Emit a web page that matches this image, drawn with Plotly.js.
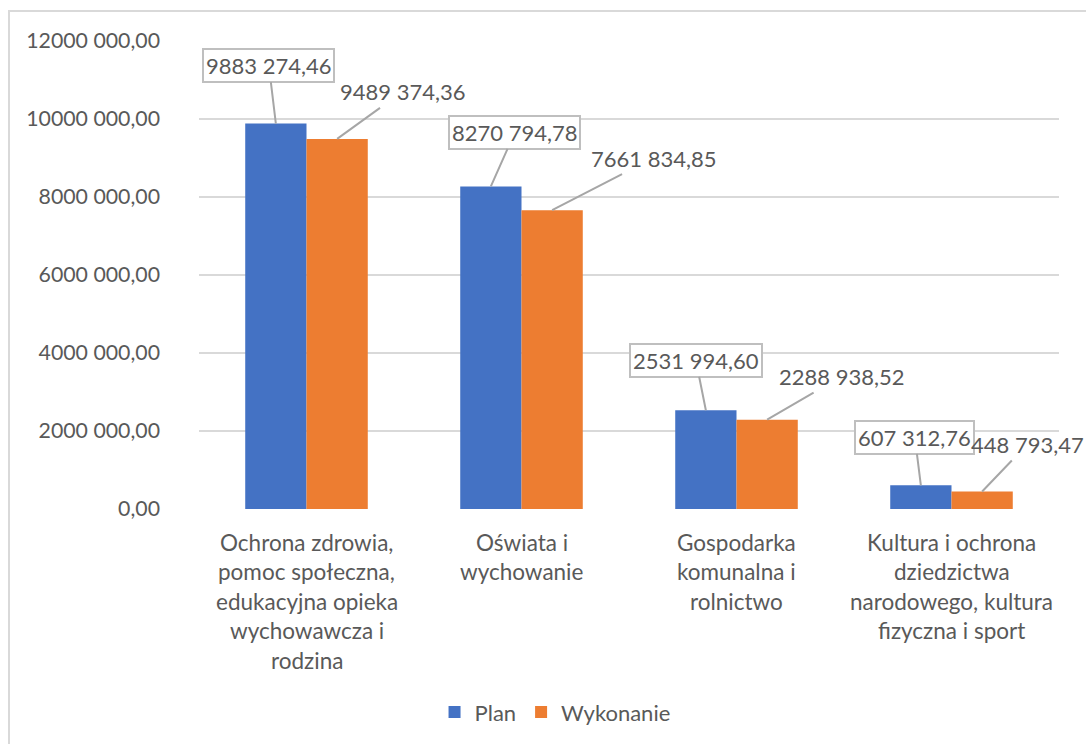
<!DOCTYPE html>
<html>
<head>
<meta charset="utf-8">
<script src="https://cdn.plot.ly/plotly-3.0.1.min.js"></script>
<style>
  html, body { margin: 0; padding: 0; background: #fff; }
  #wrap { position: relative; width: 1086px; height: 744px; overflow: hidden; }
  #chart { width: 1086px; height: 744px; }
  #frame { position: absolute; left: 8px; top: 10px; width: 1200px; height: 900px;
           border-left: 2px solid #d9d9d9; border-top: 2px solid #d9d9d9; pointer-events: none; }
</style>
</head>
<body>
<div id="wrap"><div id="chart"></div><div id="frame"></div></div>
<script>
// ---- data ----
const categories = [
  "Ochrona zdrowia,<br>pomoc społeczna,<br>edukacyjna opieka<br>wychowawcza i<br>rodzina",
  "Oświata i<br>wychowanie",
  "Gospodarka<br>komunalna i<br>rolnictwo",
  "Kultura i ochrona<br>dziedzictwa<br>narodowego, kultura<br>fizyczna i sport"
];
const planValues = [9883274.46, 8270794.78, 2531994.60, 607312.76];
const wykonanieValues = [9489374.36, 7661834.85, 2288938.52, 448793.47];
const planLabels = ["9883 274,46", "8270 794,78", "2531 994,60", "607 312,76"];
const wykonanieLabels = ["9489 374,36", "7661 834,85", "2288 938,52", "448 793,47"];
const yTickValues = [0, 2000000, 4000000, 6000000, 8000000, 10000000, 12000000];
const yTickLabels = ["0,00", "2000 000,00", "4000 000,00", "6000 000,00", "8000 000,00", "10000 000,00", "12000 000,00"];
const seriesNames = ["Plan", "Wykonanie"];

// label offsets (pixels) for leader lines
const planOffsets = [[-7, -58], [24, -54], [-10, -50], [-6, -48]];
const wykOffsets = [[65, -47], [101, -52], [74, -43], [45, -47]];

// ---- styling ----
const FONT = "Lato, 'Open Sans', sans-serif";
const TXT = "#595959";
const BLUE = "#4472C4";
const ORANGE = "#ED7D31";
const bargap = 0.43;
const xIdx = categories.map((c, i) => i);

const traces = [
  { type: "bar", name: seriesNames[0], x: xIdx, y: planValues, marker: { color: BLUE }, hoverinfo: "y" },
  { type: "bar", name: seriesNames[1], x: xIdx, y: wykonanieValues, marker: { color: ORANGE }, hoverinfo: "y" }
];

const half = (1 - bargap) / 4;
const annotations = [];
planValues.forEach((v, i) => {
  annotations.push({
    x: i - half, y: v, xref: "x", yref: "y", text: planLabels[i],
    showarrow: true, arrowhead: 0, arrowwidth: 2, arrowcolor: "#a6a6a6",
    ax: planOffsets[i][0], ay: planOffsets[i][1],
    font: { family: FONT, size: 22, color: TXT },
    bgcolor: "#ffffff", bordercolor: "#bfbfbf", borderwidth: 2, borderpad: 2
  });
});
wykonanieValues.forEach((v, i) => {
  annotations.push({
    x: i + half, y: v, xref: "x", yref: "y", text: wykonanieLabels[i],
    showarrow: true, arrowhead: 0, arrowwidth: 2, arrowcolor: "#a6a6a6",
    ax: wykOffsets[i][0], ay: wykOffsets[i][1],
    font: { family: FONT, size: 22, color: TXT },
    bgcolor: "rgba(255,255,255,0)", borderpad: 2
  });
});
// category labels, one annotation per line for Excel-like line spacing
categories.forEach((c, i) => {
  c.split("<br>").forEach((line, j) => {
    annotations.push({
      x: i, y: 0, xref: "x", yref: "paper", text: line, showarrow: false,
      yanchor: "middle", yshift: -(33 + j * 29.5),
      font: { family: FONT, size: 22.5, color: TXT }
    });
  });
});

const layout = {
  width: 1086, height: 744,
  margin: { l: 199, r: 27, t: 41, b: 234 },
  paper_bgcolor: "#ffffff", plot_bgcolor: "#ffffff",
  barmode: "group", bargap: bargap, bargroupgap: 0,
  font: { family: FONT, size: 21, color: TXT },
  xaxis: {
    range: [-0.5, categories.length - 0.5], showticklabels: false, showgrid: false,
    zeroline: false, showline: false, ticks: "", fixedrange: true
  },
  yaxis: {
    range: [0, 12000000], tickvals: yTickValues, ticktext: yTickLabels,
    showgrid: true, gridcolor: "#d9d9d9", gridwidth: 2, zeroline: false, showline: false,
    ticks: "", ticklabelstandoff: 38, tickfont: { family: FONT, size: 21.3, color: TXT },
    fixedrange: true
  },
  showlegend: true,
  legend: {
    orientation: "h", x: 0.414, xanchor: "center", y: -0.431, yanchor: "middle",
    font: { family: FONT, size: 22, color: TXT }, traceorder: "normal"
  },
  annotations: annotations
};

Plotly.newPlot("chart", traces, layout, { displayModeBar: false, staticPlot: true });
</script>
</body>
</html>
